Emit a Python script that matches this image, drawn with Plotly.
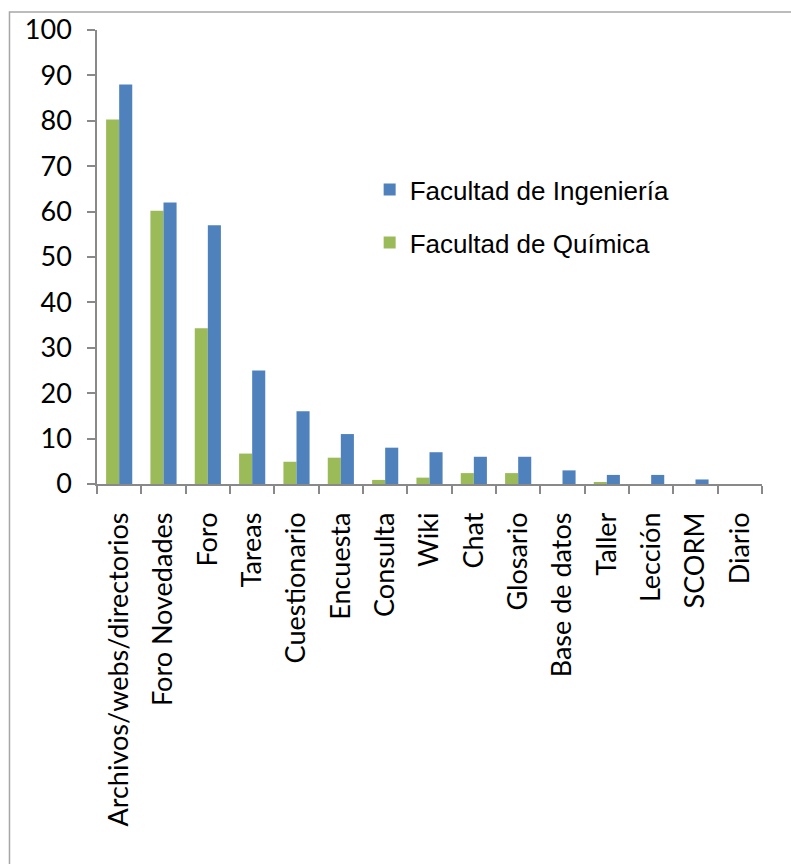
import plotly.graph_objects as go

categorias = ["Archivos/webs/directorios", "Foro Novedades", "Foro", "Tareas",
              "Cuestionario", "Encuesta", "Consulta", "Wiki", "Chat", "Glosario",
              "Base de datos", "Taller", "Lección", "SCORM", "Diario"]
quimica = [80.3, 60.2, 34.3, 6.7, 4.9, 5.8, 0.9, 1.4, 2.4, 2.4, 0, 0.4, 0, 0, 0]
ingenieria = [88, 62, 57, 25, 16, 11, 8, 7, 6, 6, 3, 2, 2, 1, 0]
ticks_y = [0, 10, 20, 30, 40, 50, 60, 70, 80, 90, 100]

AXIS_GRAY = "#898989"
X_FONT = dict(family="Lato, Liberation Sans, sans-serif", size=27, color="#000000")
Y_FONT = dict(family="Lato, Liberation Sans, sans-serif", size=27, color="#000000")

fig = go.Figure()
fig.add_trace(go.Bar(
    x=categorias, y=quimica, name="Facultad de Química",
    marker=dict(color="#9BBB59", line=dict(width=0)),
    legendgroup="q", legendrank=2,
))
fig.add_trace(go.Bar(
    x=categorias, y=ingenieria, name="Facultad de Ingeniería",
    marker=dict(color="#4F81BD", line=dict(width=0)),
    legendgroup="i", legendrank=1,
))

# outer chart frame
fig.add_shape(type="rect", xref="paper", yref="paper",
              x0=-0.1316, x1=1.3, y0=-1.2, y1=1.0396,
              line=dict(color="#A6A6A6", width=1.5), fillcolor="rgba(0,0,0,0)",
              layer="below")

fig.update_layout(
    width=791, height=864,
    margin=dict(l=97, r=29, t=30, b=380),
    paper_bgcolor="white", plot_bgcolor="white",
    barmode="group", bargap=0.41, bargroupgap=0,
    showlegend=True,
    legend=dict(
        x=0.41, y=0.70, xanchor="left", yanchor="top",
        font=dict(family="Liberation Sans, Arial, sans-serif", size=26, color="#000000"),
        tracegroupgap=16, bgcolor="rgba(0,0,0,0)",
    ),
    xaxis=dict(
        type="category", tickangle=-90, tickfont=X_FONT,
        showline=True, linecolor=AXIS_GRAY, linewidth=1.5,
        ticks="outside", tickson="boundaries", ticklen=8, tickcolor=AXIS_GRAY, tickwidth=1.5,
        showgrid=False, zeroline=False, ticklabelstandoff=16,
    ),
    yaxis=dict(
        range=[0, 100], tickvals=ticks_y, tickfont=Y_FONT,
        showline=True, linecolor=AXIS_GRAY, linewidth=1.5,
        ticks="outside", ticklen=8, tickcolor=AXIS_GRAY, tickwidth=1.5,
        showgrid=False, zeroline=False, ticklabelstandoff=10,
    ),
)

fig.write_html("out.html")
